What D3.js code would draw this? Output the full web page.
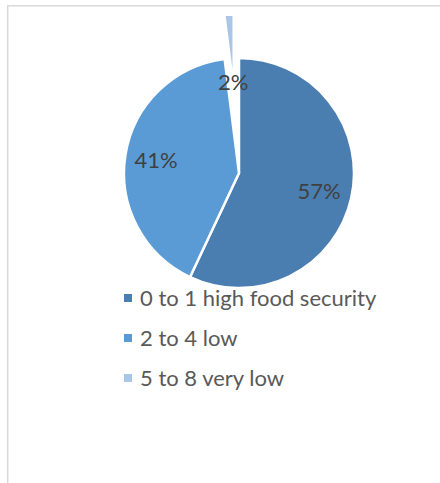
<!DOCTYPE html>
<html>
<head>
<meta charset="utf-8">
<script src="https://cdn.jsdelivr.net/npm/d3@7"></script>
<style>
  html, body { margin: 0; padding: 0; background: #fff; }
  svg { display: block; font-family: Lato, "Open Sans", sans-serif; }
</style>
</head>
<body>
<div id="chart"></div>
<script>
// datos
const categories = ["0 to 1 high food security", "2 to 4 low", "5 to 8 very low"];
const values = [57, 41, 2];
const labels = ["57%", "41%", "2%"];
const colors = ["#4a7eb1", "#5b9bd5", "#a9c5e8"];

const width = 440;
const height = 483;
const cx = 239, cy = 173, r = 115;
const explodeIdx = 2, explodeDist = 84;

const svg = d3.select("#chart").append("svg")
  .attr("width", width)
  .attr("height", height);

// borde del área del gráfico
svg.append("rect")
  .attr("x", 7.7).attr("y", 5.8)
  .attr("width", 460).attr("height", 500)
  .attr("fill", "#fff")
  .attr("stroke", "#d9d9d9")
  .attr("stroke-width", 1.5);

// recorte del área de trazado
svg.append("defs").append("clipPath")
  .attr("id", "plot-clip")
  .append("rect")
  .attr("x", 9).attr("y", 16)
  .attr("width", 430).attr("height", 460);

const pie = d3.pie().sort(null).value(d => d);
const arcs = pie(values);

const arc = d3.arc().innerRadius(0).outerRadius(r);

const g = svg.append("g")
  .attr("clip-path", "url(#plot-clip)")
  .append("g")
  .attr("transform", `translate(${cx},${cy})`);

g.selectAll("path")
  .data(arcs)
  .join("path")
    .attr("d", arc)
    .attr("fill", (d, i) => colors[i])
    .attr("stroke", "#fff")
    .attr("stroke-width", 2.5)
    .attr("stroke-linejoin", "round")
    .attr("transform", (d, i) => {
      if (i !== explodeIdx) return null;
      const a = (d.startAngle + d.endAngle) / 2;
      return `translate(${Math.sin(a) * explodeDist},${-Math.cos(a) * explodeDist})`;
    });

// etiquetas de porcentaje
const labelRadius = [82, 84, 91];
svg.append("g")
  .attr("transform", `translate(${cx},${cy})`)
  .selectAll("text")
  .data(arcs)
  .join("text")
    .attr("x", (d, i) => Math.sin((d.startAngle + d.endAngle) / 2) * labelRadius[i])
    .attr("y", (d, i) => -Math.cos((d.startAngle + d.endAngle) / 2) * labelRadius[i])
    .attr("dy", "0.35em")
    .attr("text-anchor", "middle")
    .attr("fill", "#404040")
    .attr("font-size", 22)
    .text((d, i) => labels[i]);

// leyenda
const legendY = d3.scalePoint().domain(categories).range([298, 378]);
const legend = svg.append("g")
  .selectAll("g")
  .data(categories)
  .join("g")
    .attr("transform", d => `translate(124,${legendY(d)})`);

legend.append("rect")
  .attr("x", 0).attr("y", -4)
  .attr("width", 8).attr("height", 8)
  .attr("fill", (d, i) => colors[i]);

legend.append("text")
  .attr("x", 16)
  .attr("y", 8)
  .attr("fill", "#595959")
  .attr("font-size", 22)
  .text(d => d);
</script>
</body>
</html>
